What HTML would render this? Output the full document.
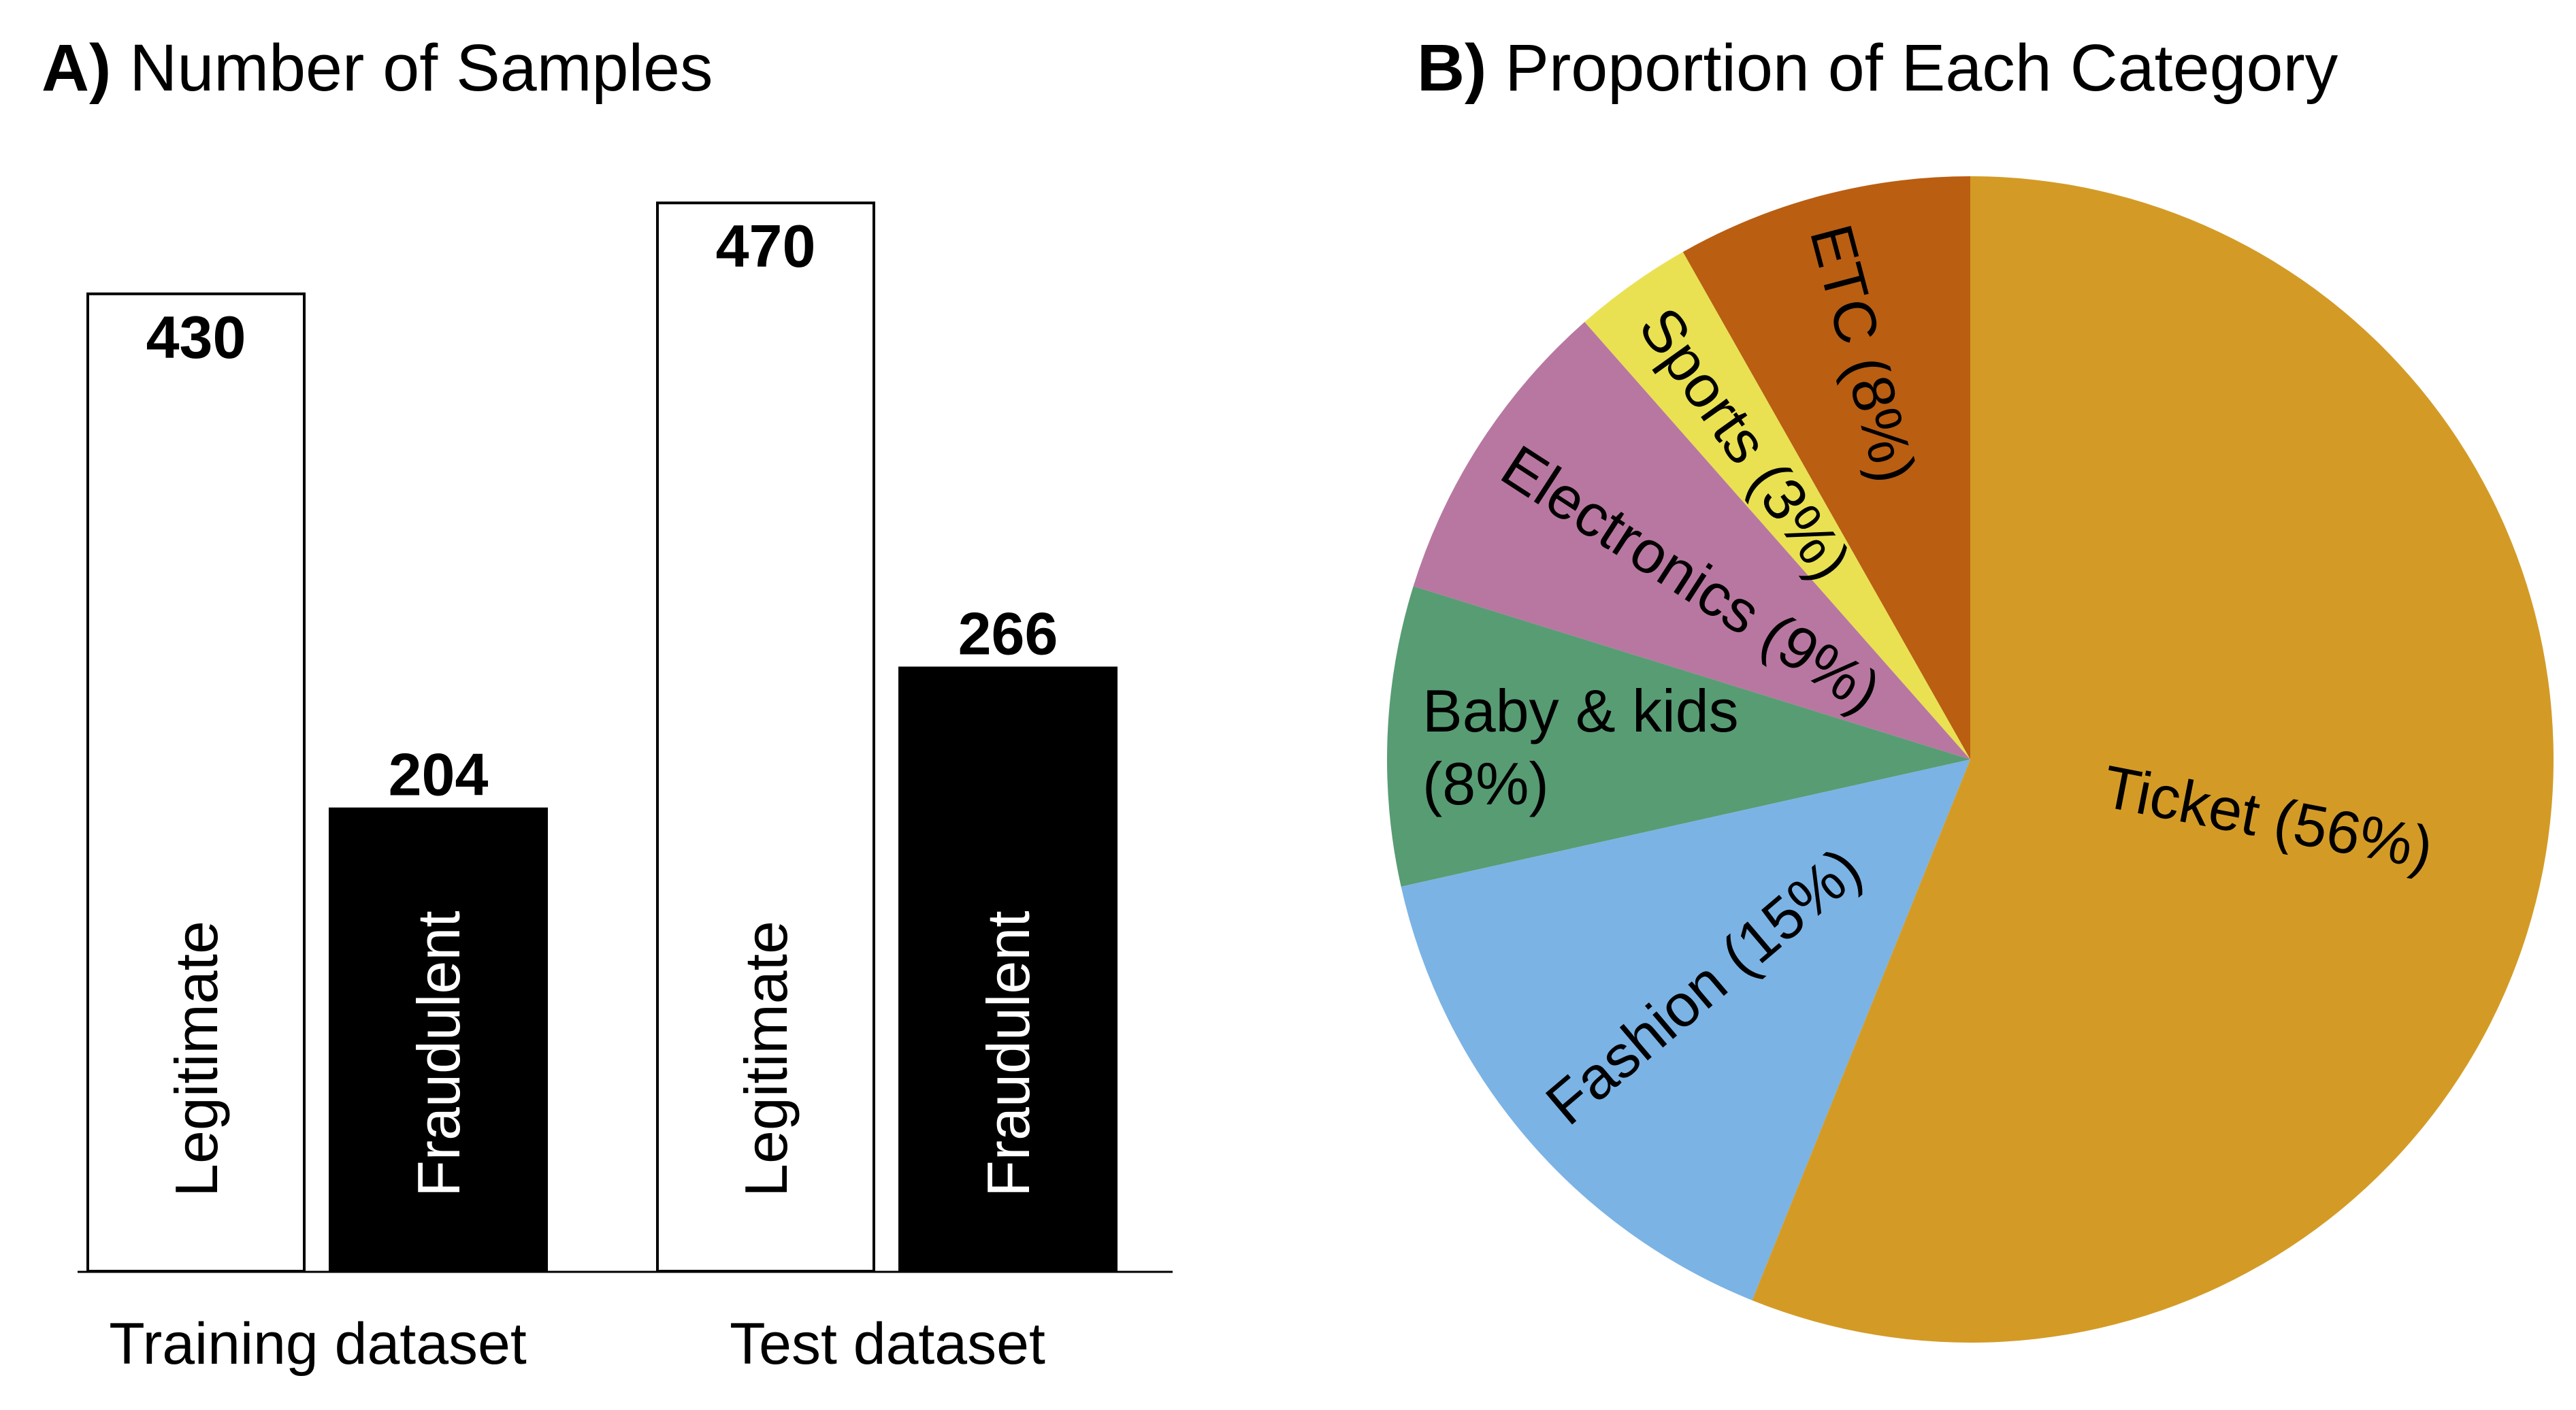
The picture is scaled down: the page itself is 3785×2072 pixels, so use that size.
<!DOCTYPE html>
<html><head><meta charset="utf-8"><style>
html,body{margin:0;padding:0;background:#fff;}
svg{display:block;font-family:"Liberation Sans",Arial,sans-serif;}
</style></head><body>
<svg id="fig" width="3785" height="2072" viewBox="0 0 3785 2072" xmlns="http://www.w3.org/2000/svg">
<text x="61" y="133" font-size="97"><tspan font-weight="bold">A)</tspan> Number of Samples</text>
<text x="2082" y="133" font-size="97"><tspan font-weight="bold">B)</tspan> Proportion of Each Category</text>
<g id="bars"></g>
<g id="pie"></g>
</svg>
<script>
const groups = ["Training dataset", "Test dataset"];
const legitValues = [430, 470];
const fraudValues = [204, 266];
const pieCategories = ["ETC", "Sports", "Electronics", "Baby & kids", "Fashion", "Ticket"];
const pieValues = [8.2, 3.3, 8.7, 8.3, 15.4, 56.1];
const pieLabels = ["ETC (8%)", "Sports (3%)", "Electronics (9%)", "Baby & kids (8%)", "Fashion (15%)", "Ticket (56%)"];

const NS = "http://www.w3.org/2000/svg";
function mk(tag, attrs, parent) {
  const e = document.createElementNS(NS, tag);
  for (const k in attrs) e.setAttribute(k, attrs[k]);
  parent.appendChild(e);
  return e;
}
// Bar chart
const bars = document.getElementById('bars');
const baseY = 1868, pxPerUnit = 3.34;
const yScale = v => baseY - v * pxPerUnit;
const groupX = [129, 966], barW = 318, gap = 354;
const ax = mk('line', {x1: 114, x2: 1723, y1: baseY + 1, y2: baseY + 1, stroke: '#000', 'stroke-width': 3}, bars);


groups.forEach((g, i) => {
  const x0 = groupX[i];
  const yl = yScale(legitValues[i]);
  const r1 = mk('rect', {x: x0, y: yl, width: barW, height: baseY - yl, fill: '#fff', stroke: '#000', 'stroke-width': 4}, bars);
  
  
  const t1 = mk('text', {x: x0 + barW / 2, y: yl + 94, 'font-size': 88, 'font-weight': 'bold', 'text-anchor': 'middle'}, bars);
  t1.textContent = legitValues[i];
  
  
  const cx1 = x0 + barW / 2;
  const l1 = mk('text', {x: 0, y: 0, 'font-size': 88, transform: `translate(${cx1 + 31},1759) rotate(-90)`}, bars);
  l1.textContent = 'Legitimate';
  
  

  const x1 = x0 + gap;
  const yf = yScale(fraudValues[i]);
  const r2 = mk('rect', {x: x1, y: yf, width: 322, height: baseY - yf, fill: '#000'}, bars);
  
  
  const t2 = mk('text', {x: x1 + 161, y: yf - 18, 'font-size': 88, 'font-weight': 'bold', 'text-anchor': 'middle'}, bars);
  t2.textContent = fraudValues[i];
  
  
  const l2 = mk('text', {x: 0, y: 0, 'font-size': 88, fill: '#fff', transform: `translate(${x1 + 161 + 31},1759) rotate(-90)`}, bars);
  l2.textContent = 'Fraudulent';
  
  

  const gl = mk('text', {x: (x0 + x1 + 322) / 2, y: 2004, 'font-size': 86, 'text-anchor': 'middle'}, bars);
  gl.textContent = g;
  
  
});

// Pie chart
const pie = document.getElementById('pie');
const colors = ["#BA5E12", "#E9E152", "#B877A0", "#589C74", "#7BB3E5", "#D39B26"];
const cx = 2895, cy = 1116, R = 857;
const total = pieValues.reduce((a, b) => a + b, 0);
const pt = (a, r) => [cx - r * Math.sin(a), cy - r * Math.cos(a)]; // counterclockwise from top
let cum = 0;
const mids = [];
pieValues.forEach((v, i) => {
  const a0 = cum / total * 2 * Math.PI;
  cum += v;
  const a1 = cum / total * 2 * Math.PI;
  const p0 = pt(a0, R), p1 = pt(a1, R);
  const large = (a1 - a0) > Math.PI ? 1 : 0;
  const s = mk('path', {d: `M${cx},${cy} L${p0[0]},${p0[1]} A${R},${R} 0 ${large} 0 ${p1[0]},${p1[1]} Z`, fill: colors[i]}, pie);
  
  
  mids.push((a0 + a1) / 2);
});
// labels
const labelR = [0.72, 0.665, 0.57, 0, 0.60, 0.52];
pieLabels.forEach((lab, i) => {
  const m = mids[i];
  if (pieCategories[i] === "Baby & kids") {
    const t = mk('text', {x: 2090, y: 1075, 'font-size': 88}, pie);
    
    
    const a = mk('tspan', {x: 2090, y: 1075}, t); a.textContent = "Baby & kids";
    const b = mk('tspan', {x: 2090, y: 1182}, t); b.textContent = "(8%)";
    return;
  }
  const p = pt(m, R * labelR[i]);
  let rot = 90 - m * 180 / Math.PI;
  while (rot > 90) rot -= 180;
  while (rot < -90) rot += 180;
  const t = mk('text', {x: 0, y: 0, 'font-size': 88, 'text-anchor': 'middle', 'dominant-baseline': 'central', transform: `translate(${p[0]},${p[1]}) rotate(${rot})`}, pie);
  t.textContent = lab;
  
  
});
</script>
</body></html>
